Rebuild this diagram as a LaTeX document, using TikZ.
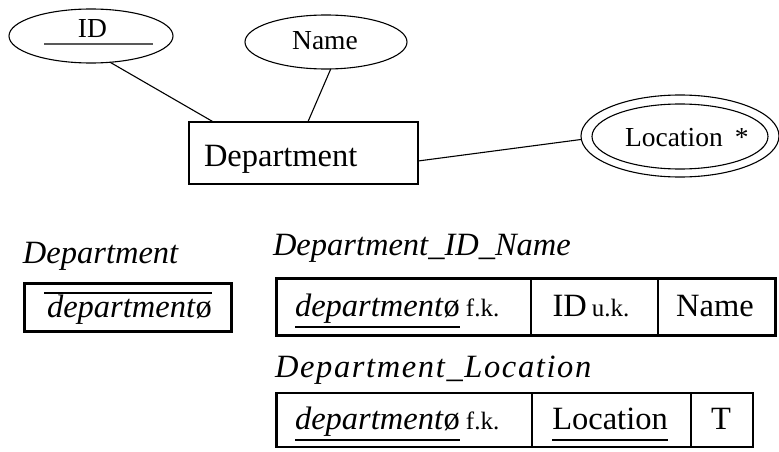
\documentclass[tikz,border=0pt]{standalone}
\usepackage{fontspec}
\setmainfont{Liberation Serif}
\newfontfamily\spacedserif{Liberation Serif}[LetterSpace=5]
\usetikzlibrary{shapes.geometric}

\begin{document}
\begin{tikzpicture}[x=1pt,y=-1pt,
  every node/.style={inner sep=0pt, outer sep=0pt},
  big/.style={font=\fontsize{32.5}{36}\selectfont},
  bigit/.style={font=\fontsize{32.5}{36}\selectfont\itshape},
  mid/.style={font=\fontsize{27.5}{31}\selectfont},
  note/.style={font=\fontsize{25}{28}\selectfont},
  attrib/.style={draw, ellipse, line width=1.1pt},
  entity/.style={draw, rectangle, line width=1.3pt},
  erline/.style={line width=1.1pt},
  cell/.style={draw, rectangle, line width=2.8pt},
  ul/.style={line width=2.6pt}]
\useasboundingbox (0,0) rectangle (779,452);

% ---------- ER diagram ----------
\node[attrib, minimum width=164pt, minimum height=54pt] (id) at (91,36) {};
\node[mid, anchor=base] (idtxt) at (92.5,38) {ID};
\draw[line width=1.4pt, black!65] (44,44) -- (153,44);

\node[attrib, minimum width=162pt, minimum height=54pt] (name) at (326,42) {};
\node[mid, anchor=base] (nametxt) at (325,49) {Name};

\node[entity, minimum width=229pt, minimum height=62pt] (dept) at (303.5,153) {};
\node[big, anchor=base west] (depttxt) at (204,166) {Department};

\node[attrib, minimum width=198pt, minimum height=82pt] (loc) at (680,136) {};
\node[attrib, minimum width=176pt, minimum height=65pt] (locin) at (680,136.5) {};
\node[mid, anchor=base west] (loctxt) at (625,146) {Location\hspace{12pt}*};

\draw[erline] (id.306) -- (dept.161);
\draw[erline] (name.280) -- (dept.82);
\draw[erline] (dept.-4) -- (loc.182);

% ---------- relation: Department ----------
\node[bigit, anchor=base west] (r0) at (23,263) {Department};
\node[cell, minimum width=207pt, minimum height=48pt] (t0) at (128,307.5) {};
\node[bigit, anchor=base west] (t0a) at (47,317) {department\textup{ø}};
\draw[ul] (44,293) -- (212,293);

% ---------- relation: Department_ID_Name ----------
\node[bigit, anchor=base west] (r1) at (273,255) {Department\_ID\_Name};
\node[cell, minimum width=254.5pt, minimum height=57pt] (c11) at (403.75,307) {};
\node[cell, minimum width=127pt, minimum height=57pt] (c12) at (594.5,307) {};
\node[cell, minimum width=117.5pt, minimum height=57pt] (c13) at (716.75,307) {};
\node[bigit, anchor=base west] (fk1) at (295,316) {department\textup{ø}};
\node[note, anchor=base west] (fk1b) at ([xshift=6pt]fk1.base east) {f.k.};
\draw[ul] ([yshift=-11pt]fk1.base west) -- ([yshift=-11pt]fk1.base east);
\node[big, anchor=base] (idcol) at (591,316) {ID\hspace{5pt}{\fontsize{25}{28}\selectfont u.k.}};
\node[big, anchor=base] (namecol) at (715,316) {Name};

% ---------- relation: Department_Location ----------
\node[font=\fontsize{32.5}{36}\spacedserif\itshape, anchor=base west] (r2) at (275,377) {Department\_Location};
\node[cell, minimum width=255.5pt, minimum height=54pt] (c21) at (404.25,420) {};
\node[cell, minimum width=159pt, minimum height=54pt] (c22) at (611.5,420) {};
\node[cell, minimum width=62pt, minimum height=54pt] (c23) at (722,420) {};
\node[bigit, anchor=base west] (fk2) at (295,429) {department\textup{ø}};
\node[note, anchor=base west] (fk2b) at ([xshift=6pt]fk2.base east) {f.k.};
\draw[ul] ([yshift=-11pt]fk2.base west) -- ([yshift=-11pt]fk2.base east);
\node[big, anchor=base] (loccol) at (610,429) {Location};
\draw[ul] ([yshift=-11pt]loccol.base west) -- ([yshift=-11pt]loccol.base east);
\node[big, anchor=base] (tcol) at (721,429) {T};
\end{tikzpicture}
\end{document}
